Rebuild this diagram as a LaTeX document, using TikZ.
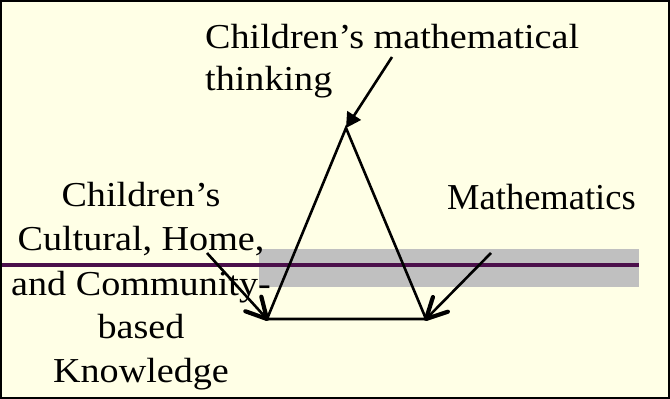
\documentclass[tikz,border=0pt]{standalone}
\usepackage{fontspec}
\setmainfont{Liberation Serif}
\newfontfamily\widefont[FakeStretch=1.09]{Liberation Serif}
\usetikzlibrary{arrows.meta,calc}
\definecolor{bgyellow}{RGB}{255,255,230}
\definecolor{bandgray}{RGB}{192,192,192}
\definecolor{linepurple}{RGB}{75,15,75}
\begin{document}
\begin{tikzpicture}[x=1pt,y=1pt,
  lbl/.style={inner sep=0pt, font=\widefont\fontsize{35}{42}\selectfont},
  mlbl/.style={inner sep=0pt, font=\fontsize{36.5}{42}\selectfont},
  tri/.style={line width=2.6pt, line cap=round},
  pointer/.style={line width=2.6pt},
  barb/.style={line width=4.2pt, line cap=round, line join=round},
  toppointer/.style={line width=2.6pt, -{Triangle[length=15pt,width=16pt]}}]
\useasboundingbox (0,0) rectangle (670,399);
\fill[bgyellow] (0,0) rectangle (670,399);
% band and line
\fill[bandgray] (259,112) rectangle (639,150);
\draw[linepurple, line width=3.5pt] (0,134) -- (639,134);
% triangle vertices
\coordinate (apex) at (346,271);
\coordinate (bl) at (267,80);
\coordinate (br) at (426,80);
\draw[tri] (apex) -- (bl) -- (br) -- cycle;
% labels
\node[lbl, anchor=base west] (t1) at (205,350) {Children’s mathematical};
\node[lbl, anchor=base west] (t2) at (205,308) {thinking};
\node[lbl, anchor=base] (l1) at (141,192) {Children’s};
\node[lbl, anchor=base] (l2) at (141,148) {Cultural, Home,};
\node[lbl, anchor=base] (l3) at (141,103) {and Community-};
\node[lbl, anchor=base] (l4) at (141,60) {based};
\node[lbl, anchor=base] (l5) at (141,16) {Knowledge};
\node[mlbl, anchor=base west] (m) at (447,189) {Mathematics};
% pointers
\coordinate (s1) at (392,342);
\coordinate (s2) at (207,146);
\coordinate (s3) at (491,146);
\draw[toppointer] (s1) -- (apex);
\draw[pointer] (s2) -- (bl);
\draw[barb] ($(bl)!23pt!28:(s2)$) -- (bl) -- ($(bl)!23pt!-28:(s2)$);
\draw[pointer] (s3) -- (br);
\draw[barb] ($(br)!23pt!27:(s3)$) -- (br) -- ($(br)!23pt!-27:(s3)$);
% frame
\draw[line width=2pt] (1,1) rectangle (669,398);
\end{tikzpicture}
\end{document}
